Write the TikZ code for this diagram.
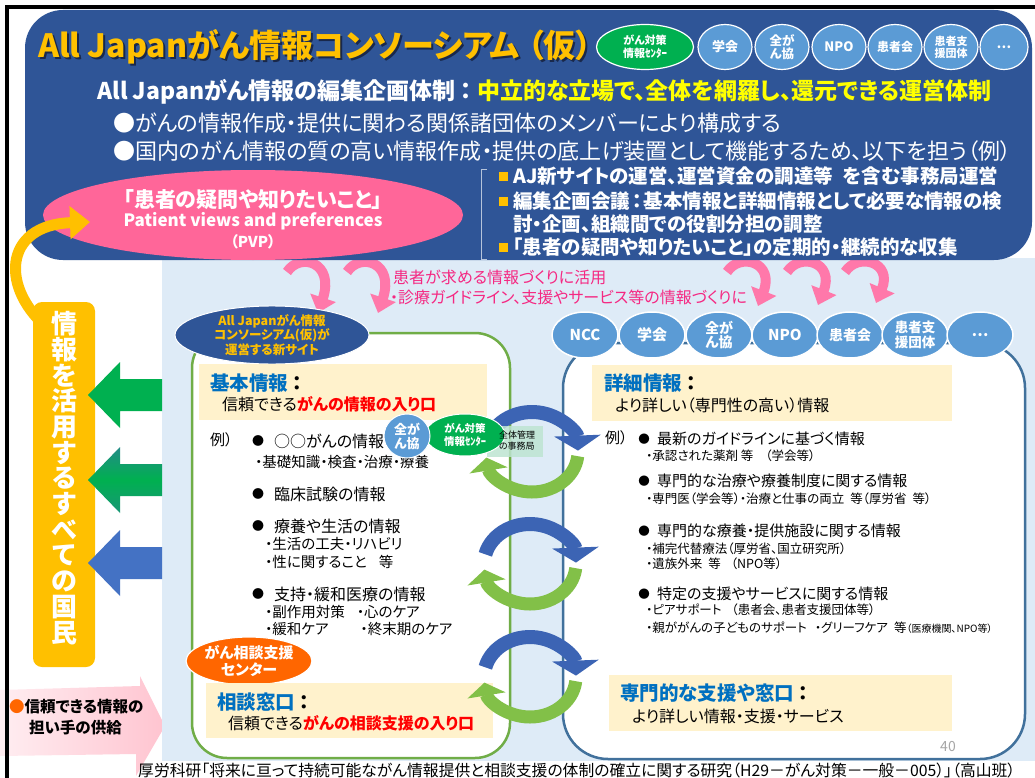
\documentclass[tikz,border=0pt]{standalone}
\usepackage{fontspec}
\setmainfont{Noto Sans CJK JP}[RawFeature=+palt]
\usetikzlibrary{shapes.geometric,arrows.meta,calc}
\definecolor{dblue}{RGB}{47,85,151}
\definecolor{lbg}{RGB}{222,235,247}
\definecolor{tyellow}{RGB}{255,192,0}
\definecolor{byellow}{RGB}{255,255,0}
\definecolor{cblue}{RGB}{91,155,213}
\definecolor{cgreen}{RGB}{0,176,80}
\definecolor{ppink}{RGB}{255,102,153}
\definecolor{hookpink}{RGB}{255,120,170}
\definecolor{ptext}{RGB}{245,40,130}
\definecolor{gborder}{RGB}{112,173,71}
\definecolor{bborder}{RGB}{65,113,156}
\definecolor{cream}{RGB}{255,242,204}
\definecolor{hblue}{RGB}{0,112,192}
\definecolor{orng}{RGB}{255,102,0}
\definecolor{arcblue}{RGB}{60,100,180}
\definecolor{arcgreen}{RGB}{130,192,72}
\definecolor{mint}{RGB}{190,228,210}
\definecolor{lpink}{RGB}{255,196,208}
\definecolor{teal2}{RGB}{35,140,135}
\definecolor{ablue}{RGB}{68,114,196}
\definecolor{shadowc}{RGB}{25,40,75}
\newcommand\FS[2]{\fontsize{#1}{#2}\selectfont}
\begin{document}
\begin{tikzpicture}[x=1pt,y=1pt,
  txt/.style={inner sep=0pt, anchor=west},
  ctxt/.style={inner sep=0pt, anchor=center},
  topbadge/.style={ellipse, minimum width=54pt, minimum height=45pt, inner sep=0pt, fill=cblue, draw=white, line width=1.2pt, text=white, font=\FS{13}{14}\bfseries, align=center},
  rowbadge/.style={ellipse, minimum width=66pt, minimum height=46pt, inner sep=0pt, fill=cblue, draw=white, line width=1.5pt, text=white, font=\FS{15}{16}\bfseries, align=center},
  headtxt/.style={txt, font=\FS{19.5}{20}\bfseries},
  bodytxt/.style={txt, font=\FS{16}{17}},
  lbul/.style={txt, font=\FS{16}{17}},
  lsub/.style={txt, font=\FS{14.5}{15}},
  rbul/.style={txt, font=\FS{15}{16}},
  rsub/.style={txt, font=\FS{12.5}{13}},
  barc/.style={draw=arcblue, line width=14pt, -{Triangle[width=46pt,length=15pt]}},
  garc/.style={draw=arcgreen, line width=13pt, -{Triangle[width=38pt,length=13pt]}},
  hookarrow/.style={draw=hookpink, line width=10pt, -{Triangle[width=26pt,length=16pt]}},
  listtxt/.style={txt, text=white, font=\FS{19.5}{20}\bfseries},
]
\useasboundingbox (0,0) rectangle (1035,-778);
\fill[white] (0,0) rectangle (1035,-778);

% pink supply arrow (bottom left)
\shade[left color=lpink!30, right color=lpink] (0,-690) -- (140,-686) -- (140,-676) -- (165,-726) -- (136,-776) -- (136,-754) -- (0,-756) -- cycle;

% light background
\fill[lbg] (162,-258) rectangle (1035,-761);

% pink hook arrows
\foreach \hx/\hy in {287/313, 347/313, 727/306, 787/305, 845/303} {
  \draw[hookarrow] (\hx,-272) .. controls (\hx+13,-252) and (\hx+48,-262) .. (\hx+31,-\hy);
}

% top blue box
\fill[dblue, rounded corners=38] (25,-10) rectangle (1032,-260);

% title
\node[txt, text=shadowc, font=\FS{32}{32}\bfseries] (titleshadow) at (40,-49) {All Japanがん情報コンソーシアム\hspace{8pt}（仮）};
\node[txt, text=tyellow, font=\FS{32}{32}\bfseries] (title) at (38,-47) {All Japanがん情報コンソーシアム\hspace{8pt}（仮）};

% top badges
\node[ellipse, minimum width=97pt, minimum height=45pt, inner sep=0pt, fill=cgreen, draw=white, line width=1.2pt, text=white, font=\FS{11}{13}\bfseries, align=center] (gcenter) at (645,-47) {がん対策\\情報ｾﾝﾀｰ};
\node[topbadge] (tb1) at (725,-47) {学会};
\node[topbadge, font=\FS{12.5}{13}\bfseries] (tb2) at (782,-47) {全が\\ん協};
\node[topbadge] (tb3) at (839,-47) {NPO};
\node[topbadge, font=\FS{12}{13}\bfseries] (tb4) at (895,-47) {患者会};
\node[topbadge, font=\FS{11}{12}\bfseries] (tb5) at (951,-47) {患者支\\援団体};
\node[topbadge, minimum width=48pt] (tb6) at (1004,-47) {…};

% lines in top box
\node[txt, font=\FS{23}{24}\bfseries] (l2) at (97,-92) {\textcolor{white}{All Japanがん情報の編集企画体制\hspace{5pt}：\hspace{5pt}}\textcolor{byellow}{中立的な立場で、全体を網羅し、還元できる運営体制}};
\node[txt, text=white, font=\FS{22}{23}] (l3) at (113,-123) {●がんの情報作成・提供に関わる関係諸団体のメンバーにより構成する};
\node[txt, text=white, font=\FS{22}{23}] (l4) at (113,-151) {●国内のがん情報の質の高い情報作成・提供の底上げ装置として機能するため、以下を担う（例）};

% bracket and list
\draw[white!65!dblue, line width=0.8pt] (487,-169) -- (481,-169) -- (481,-259) -- (487,-259);
\fill[tyellow] (499,-172) rectangle (508,-181);
\fill[tyellow] (499,-197) rectangle (508,-206);
\fill[tyellow] (499,-243) rectangle (508,-252);
\node[listtxt] (li1) at (513,-176) {AJ新サイトの運営、運営資金の調達等\hspace{10pt}を含む事務局運営};
\node[listtxt] (li2) at (513,-201) {編集企画会議\hspace{2pt}：\hspace{2pt}基本情報と詳細情報として必要な情報の検};
\node[listtxt] (li2b) at (513,-224) {討・企画、組織間での役割分担の調整};
\node[listtxt] (li3) at (513,-247) {「患者の疑問や知りたいこと」の定期的・継続的な収集};

% PVP ellipse
\node[ellipse, minimum width=420pt, minimum height=90pt, inner sep=0pt, fill=ppink] (pvp) at (253,-215) {};
\node[ctxt, text=white, font=\FS{21}{22}\bfseries] (pvp1) at (253,-200) {「患者の疑問や知りたいこと」};
\node[ctxt, text=white, font=\FS{17}{18}\bfseries] (pvp2) at (253,-221) {Patient views and preferences};
\node[ctxt, text=white, font=\FS{15}{16}\bfseries] (pvp3) at (253,-242) {（PVP）};

% yellow curved arrow
\coordinate (ya) at (50,-330);
\coordinate (yb) at (90,-222);
\draw[tyellow, line width=11pt, -{Triangle[width=32pt,length=20pt]}] (ya) .. controls (0,-290) and (2,-225) .. (yb);

% vertical yellow box
\fill[tyellow, rounded corners=9] (33,-302) rectangle (95,-667);
\node[ctxt, text=white, font=\FS{26}{25.7}\bfseries, align=center] (kokumin) at (64,-478) {情\\報\\を\\活\\用\\す\\る\\す\\べ\\て\\の\\国\\民};

% left arrows
\fill[cgreen] (162,-379) -- (120,-379) -- (120,-362) -- (88,-395) -- (120,-428) -- (120,-411) -- (162,-411) -- cycle;
\shade[top color=teal2, bottom color=teal2!70!cgreen, middle color=cgreen] (162,-464) -- (120,-464) -- (120,-447) -- (88,-480) -- (120,-513) -- (120,-496) -- (162,-496) -- cycle;
\fill[ablue] (162,-547) -- (120,-547) -- (120,-530) -- (88,-563) -- (120,-596) -- (120,-579) -- (162,-579) -- cycle;

% supply text
\node[txt, font=\FS{15.5}{16}\bfseries] (supply1) at (9,-707) {\textcolor{orng}{●}信頼できる情報の};
\node[txt, font=\FS{15.5}{16}\bfseries] (supply2) at (29,-728) {担い手の供給};

% pink text
\node[txt, text=ptext, font=\FS{16}{17}] (pt1) at (393,-277) {患者が求める情報づくりに活用};
\node[txt, text=ptext, font=\FS{16}{17}] (pt2) at (390,-297) {・診療ガイドライン、支援やサービス等の情報づくりに};

% panels
\draw[gborder, line width=2.5pt, fill=white, rounded corners=35] (192,-333) rectangle (510,-758);
\draw[bborder, line width=2.5pt, fill=white, rounded corners=45] (563,-343) rectangle (1025,-759);

% row badges
\node[rowbadge] (rb1) at (585,-335) {NCC};
\node[rowbadge] (rb2) at (652,-335) {学会};
\node[rowbadge, font=\FS{14}{14.5}\bfseries] (rb3) at (719,-335) {全が\\ん協};
\node[rowbadge] (rb4) at (785,-335) {NPO};
\node[rowbadge, font=\FS{14}{15}\bfseries] (rb5) at (850,-335) {患者会};
\node[rowbadge, font=\FS{13.5}{14.5}\bfseries] (rb6) at (915,-335) {患者支\\援団体};
\node[rowbadge] (rb7) at (980,-335) {…};

% consortium ellipse
\node[ellipse, minimum width=194pt, minimum height=40pt, inner sep=0pt, fill=dblue, draw=white, line width=1pt, text=tyellow, font=\FS{12.5}{12.5}\bfseries, align=center] (cons) at (272,-335) {All Japanがん情報\\コンソーシアム(仮)が\\運営する新サイト};

% left panel content
\fill[cream] (199,-364) rectangle (487,-420);
\node[headtxt] (kihon) at (210,-383) {\textcolor{hblue}{基本情報}\hspace{4pt}：};
\node[bodytxt] (kihon2) at (222,-404) {信頼できる\textcolor{red}{\bfseries がんの情報の入り口}};
\node[txt, font=\FS{15}{16}] (rei1) at (210,-440) {例）};
\node[ctxt, font=\FS{12}{12}] (lb1) at (258,-441) {●};
\node[lbul] (lt1) at (274,-441) {○○がんの情報};
\node[lsub] (ls1) at (255,-462) {・基礎知識・検査・治療・療養};
\node[ctxt, font=\FS{12}{12}] (lb2) at (258,-494) {●};
\node[lbul] (lt2) at (274,-494) {臨床試験の情報};
\node[ctxt, font=\FS{12}{12}] (lb3) at (258,-526) {●};
\node[lbul] (lt3) at (274,-526) {療養や生活の情報};
\node[lsub] (ls3a) at (265,-544) {・生活の工夫・リハビリ};
\node[lsub] (ls3b) at (265,-562) {・性に関すること\hspace{12pt}等};
\node[ctxt, font=\FS{12}{12}] (lb4) at (258,-594) {●};
\node[lbul] (lt4) at (274,-594) {支持・緩和医療の情報};
\node[lsub] (ls4a) at (265,-612) {・副作用対策\hspace{12pt}・心のケア};
\node[lsub] (ls4b) at (265,-629) {・緩和ケア\hspace{32pt}・終末期のケア};

\node[ellipse, minimum width=120pt, minimum height=48pt, inner sep=0pt, fill=orng, draw=white, line width=1.2pt, text=white, font=\FS{15}{17}\bfseries, align=center] (soudanc) at (249,-661) {がん相談支援\\センター};

\fill[cream] (206,-683) rectangle (493,-738);
\node[headtxt] (soudan) at (217,-702) {\textcolor{hblue}{相談窓口}\hspace{4pt}：};
\node[bodytxt] (soudan2) at (228,-723) {信頼できる\textcolor{red}{\bfseries がんの相談支援の入り口}};

% right panel content
\fill[cream] (592,-365) rectangle (952,-421);
\node[headtxt] (shousai) at (604,-383) {\textcolor{hblue}{詳細情報}\hspace{4pt}：};
\node[bodytxt] (shousai2) at (615,-405) {より詳しい（専門性の高い）情報};
\node[txt, font=\FS{15}{16}] (rei2) at (605,-438) {例）};
\node[ctxt, font=\FS{11.5}{12}] (rbl1) at (644,-439) {●};
\node[rbul] (rt1) at (657,-439) {最新のガイドラインに基づく情報};
\node[rsub] (rs1) at (646,-456) {・承認された薬剤 等\hspace{12pt}（学会等）};
\node[ctxt, font=\FS{11.5}{12}] (rbl2) at (644,-481) {●};
\node[rbul] (rt2) at (657,-481) {専門的な治療や療養制度に関する情報};
\node[rsub] (rs2) at (646,-499) {・専門医（学会等）・治療と仕事の両立\hspace{6pt}等（厚労省\hspace{6pt}等）};
\node[ctxt, font=\FS{11.5}{12}] (rbl3) at (644,-531) {●};
\node[rbul] (rt3) at (657,-531) {専門的な療養・提供施設に関する情報};
\node[rsub] (rs3a) at (646,-549) {・補完代替療法（厚労省、国立研究所）};
\node[rsub] (rs3b) at (646,-564) {・遺族外来\hspace{6pt}等\hspace{10pt}（NPO等）};
\node[ctxt, font=\FS{11.5}{12}] (rbl4) at (644,-594) {●};
\node[rbul] (rt4) at (657,-594) {特定の支援やサービスに関する情報};
\node[rsub] (rs4a) at (646,-610) {・ピアサポート\hspace{10pt}（患者会、患者支援団体等）};
\node[rsub] (rs4b) at (646,-628) {・親ががんの子どものサポート\hspace{8pt}・グリーフケア\hspace{6pt}等{\FS{10}{11}（医療機関、NPO等）}};

\fill[cream] (609,-675) rectangle (952,-731);
\node[headtxt] (senmon) at (620,-693) {\textcolor{hblue}{専門的な支援や窓口}\hspace{4pt}：};
\node[bodytxt] (senmon2) at (632,-716) {より詳しい情報・支援・サービス};

% circular arrows
\coordinate (c1) at (532,-452);
\coordinate (c2) at (530,-564);
\coordinate (c3) at (530,-677);
\foreach \c in {c1,c2,c3} {
  \draw[barc] ([shift={(166:46 and 40)}]\c) arc[start angle=166, end angle=2, x radius=46, y radius=40];
  \draw[garc] ([shift={(-6:46 and 40)}]\c) arc[start angle=-6, end angle=-172, x radius=46, y radius=40];
}

% overlay on first cycle
\fill[mint, opacity=0.85] (487,-426) rectangle (543,-457);
\node[ellipse, minimum width=80pt, minimum height=42pt, inner sep=0pt, fill=cgreen, draw=white, line width=1pt, text=white, font=\FS{10.5}{12.5}\bfseries, align=center] (gcenter2) at (465,-435) {がん対策\\情報ｾﾝﾀｰ};
\node[ellipse, minimum width=46pt, minimum height=44pt, inner sep=0pt, fill=cblue, draw=white, line width=1pt, text=white, font=\FS{13}{14}\bfseries, align=center] (zengan2) at (407,-436) {全が\\ん協};
\node[ctxt, font=\FS{9}{11}, align=left] (jimu) at (517,-441) {全体管理\\の事務局};

% page number and footnote
\node[ctxt, text=black!35, font=\FS{14}{14}] (pnum) at (948,-746) {40};
\node[txt, font=\FS{15.8}{16}] (foot) at (138,-770) {厚労科研「将来に亘って持続可能ながん情報提供と相談支援の体制の確立に関する研究（H29－がん対策－一般－005）」（高山班）};

% frame
\draw[black, line width=4pt] (7,-778) -- (7,-7) -- (1035,-7);
\end{tikzpicture}
\end{document}
